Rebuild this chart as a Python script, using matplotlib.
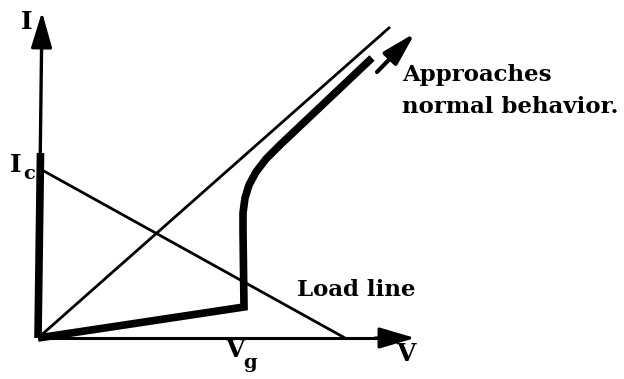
import matplotlib
matplotlib.use("Agg")
import matplotlib.pyplot as plt

# --- schematic data (origin at axes crossing) ---
v_axis_end = 377
i_axis_end = 326
load_line_x = [4, 307]
load_line_y = [168, 0]
normal_x = [0, 352]
normal_y = [0, 311]
curve_x = [0, 206, 205, 205, 207, 211, 218, 228, 242, 334]
curve_y = [0, 31, 108, 125, 140, 153, 166, 179, 193, 280]
ic_x = [0, 2.5]
ic_y = [0, 185]
trend_start = (339, 266)
trend_end = (377, 305)

FONT = "DejaVu Serif"

fig = plt.figure(figsize=(6.24, 3.79), dpi=100)
ax = fig.add_axes([0, 0, 1, 1])
ax.set_xlim(-38, 586)
ax.set_ylim(-41, 338)
ax.axis("off")

# axes
ax.plot([0, v_axis_end - 25], [0, 0], color="black", lw=2.2, solid_capstyle="butt")
ax.annotate("", xy=(v_axis_end, 0), xytext=(v_axis_end - 40, 0),
            arrowprops=dict(arrowstyle="-|>,head_length=2.2,head_width=0.65",
                            color="black", lw=2.2, shrinkA=0, shrinkB=0))
ax.plot([0, 4 * (i_axis_end - 25) / i_axis_end], [0, i_axis_end - 25],
        color="black", lw=2.4, solid_capstyle="butt")
ax.annotate("", xy=(4, i_axis_end), xytext=(3.5, i_axis_end - 40),
            arrowprops=dict(arrowstyle="-|>,head_length=2.2,head_width=0.65",
                            color="black", lw=2.2, shrinkA=0, shrinkB=0))

# thick Ic segment on the I axis
ax.plot(ic_x, ic_y, color="black", lw=5.5, solid_capstyle="butt")

# thin lines
ax.plot(load_line_x, load_line_y, color="black", lw=2.0)
ax.plot(normal_x, normal_y, color="black", lw=2.0, solid_capstyle="butt")

# thick I-V curve
ax.plot(curve_x, curve_y, color="black", lw=5.5, solid_joinstyle="miter",
        solid_capstyle="butt")

# small arrow
ax.annotate("", xy=trend_end, xytext=trend_start,
            arrowprops=dict(arrowstyle="-|>,head_length=2.0,head_width=0.55",
                            color="black", lw=3.0, shrinkA=0, shrinkB=0))

# labels
tk = dict(family=FONT, color="black", fontweight="bold")
ax.text(-11, 316, "I", fontsize=18, ha="center", va="center", **tk)
ax.text(-22, 173, "I", fontsize=18, ha="center", va="center", **tk)
ax.text(-9, 164, "c", fontsize=14, ha="center", va="center", **tk)
ax.text(364, 263, "Approaches", fontsize=16.5, ha="left", va="center", **tk)
ax.text(364, 231, "normal behavior.", fontsize=16.5, ha="left", va="center", **tk)
ax.text(259, 48, "Load line", fontsize=16.5, ha="left", va="center", **tk)
ax.text(197, -12, "V", fontsize=18, ha="center", va="center", **tk)
ax.text(212, -25, "g", fontsize=14, ha="center", va="center", **tk)
ax.text(368, -16, "V", fontsize=18, ha="center", va="center", **tk)

fig.savefig("out.png", dpi=100)
